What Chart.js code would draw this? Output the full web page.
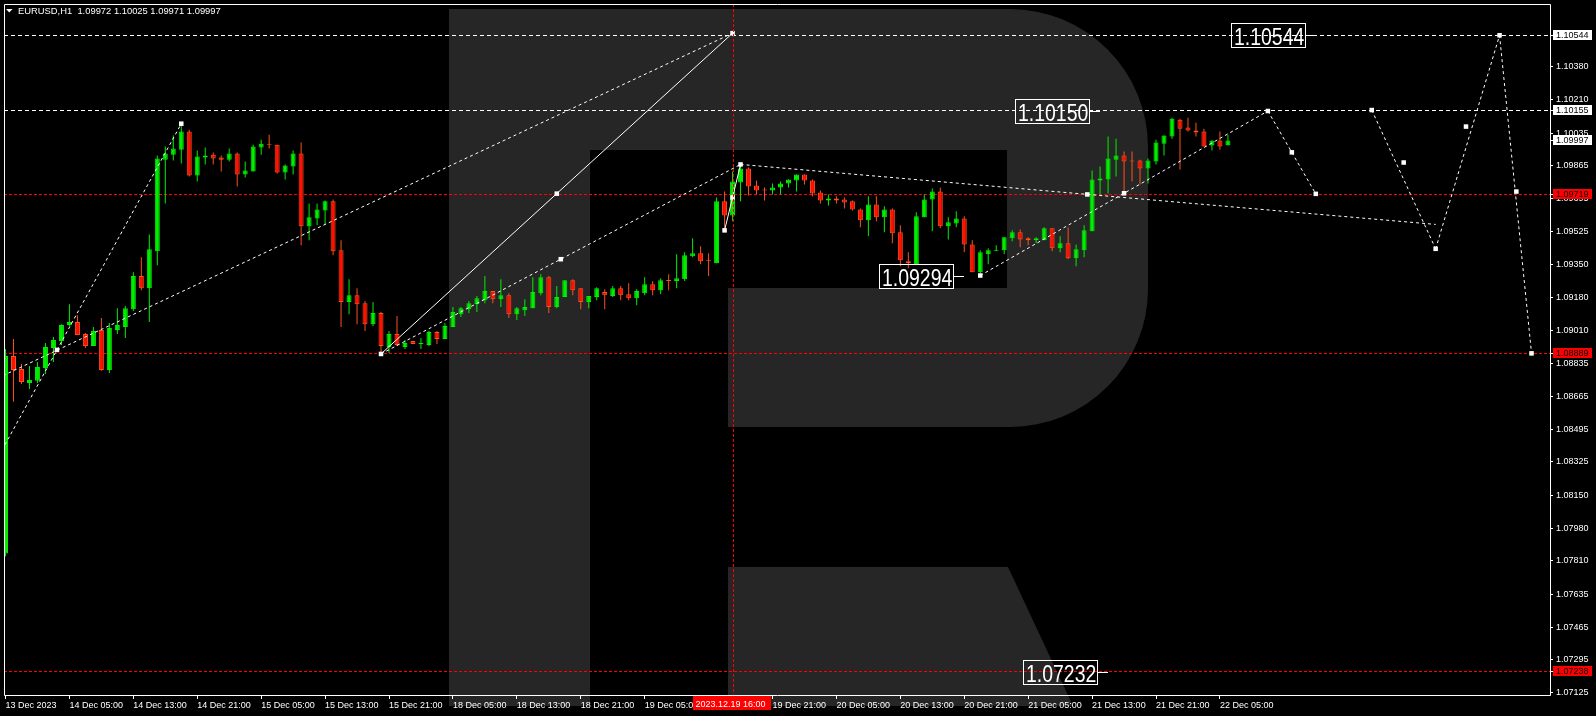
<!DOCTYPE html>
<html><head><meta charset="utf-8">
<script src="https://cdn.jsdelivr.net/npm/chart.js@4.4.1/dist/chart.umd.min.js"></script>
<style>html,body{margin:0;padding:0;background:#000;overflow:hidden}#wrap{width:1596px;height:716px;position:relative}</style>
</head><body><div id="wrap"><canvas id="c" width="1596" height="716"></canvas></div>
<script>
const titleText = 'EURUSD,H1  1.09972 1.10025 1.09971 1.09997';
const opens = [1.07848,1.08875,1.08808,1.08735,1.08746,1.08813,1.08917,1.08953,1.09036,1.09052,1.08990,1.08927,1.09010,1.08803,1.09010,1.09026,1.09119,1.09291,1.09228,1.09420,1.09897,1.09923,1.09949,1.10043,1.09814,1.09908,1.09923,1.09908,1.09897,1.09929,1.09820,1.09835,1.09960,1.09980,1.09975,1.09830,1.09861,1.09929,1.09550,1.09591,1.09633,1.09680,1.09425,1.09156,1.09192,1.09150,1.09041,1.09099,1.08922,1.08990,1.08922,1.08953,1.08938,1.08932,1.09000,1.08964,1.09026,1.09093,1.09119,1.09145,1.09166,1.09213,1.09171,1.09192,1.09093,1.09114,1.09124,1.09202,1.09285,1.09130,1.09182,1.09270,1.09228,1.09156,1.09182,1.09208,1.09187,1.09228,1.09197,1.09176,1.09202,1.09249,1.09218,1.09270,1.09265,1.09275,1.09394,1.09410,1.09373,1.09358,1.09680,1.09607,1.09778,1.09851,1.09763,1.09742,1.09737,1.09752,1.09773,1.09789,1.09820,1.09789,1.09726,1.09685,1.09695,1.09690,1.09680,1.09638,1.09581,1.09664,1.09597,1.09638,1.09519,1.09368,1.09353,1.09597,1.09690,1.09731,1.09550,1.09565,1.09591,1.09456,1.09311,1.09405,1.09423,1.09425,1.09488,1.09519,1.09488,1.09477,1.09477,1.09540,1.09436,1.09462,1.09384,1.09425,1.09524,1.09789,1.09794,1.09897,1.09918,1.09892,1.09892,1.09851,1.09887,1.09980,1.10017,1.10105,1.10064,1.10048,1.10043,1.09970,1.09996,1.09972];
const highs = [1.08912,1.08964,1.08834,1.08823,1.08844,1.08943,1.08974,1.09041,1.09145,1.09088,1.08995,1.09026,1.09073,1.09047,1.09124,1.09135,1.09311,1.09389,1.09508,1.09918,1.09965,1.10022,1.10084,1.10053,1.09944,1.09960,1.09934,1.09918,1.09955,1.09934,1.09887,1.09975,1.10001,1.10027,1.09975,1.09872,1.09944,1.09986,1.09669,1.09669,1.09685,1.09690,1.09477,1.09275,1.09228,1.09161,1.09156,1.09104,1.09005,1.09083,1.08958,1.08953,1.08969,1.09005,1.09005,1.09047,1.09130,1.09130,1.09161,1.09187,1.09291,1.09213,1.09275,1.09202,1.09130,1.09171,1.09285,1.09301,1.09291,1.09239,1.09270,1.09275,1.09228,1.09187,1.09233,1.09223,1.09239,1.09239,1.09254,1.09223,1.09285,1.09265,1.09280,1.09301,1.09405,1.09415,1.09488,1.09446,1.09410,1.09700,1.09731,1.09835,1.09877,1.09856,1.09789,1.09752,1.09773,1.09783,1.09794,1.09820,1.09820,1.09794,1.09737,1.09716,1.09706,1.09700,1.09685,1.09643,1.09706,1.09706,1.09654,1.09643,1.09555,1.09415,1.09623,1.09716,1.09747,1.09752,1.09597,1.09628,1.09602,1.09477,1.09425,1.09436,1.09451,1.09493,1.09529,1.09534,1.09493,1.09493,1.09545,1.09540,1.09498,1.09545,1.09456,1.09555,1.09840,1.09861,1.10017,1.10006,1.09939,1.09939,1.09897,1.09903,1.10001,1.10022,1.10115,1.10110,1.10115,1.10089,1.10058,1.09996,1.10043,1.10025];
const lows = [1.07833,1.08637,1.08730,1.08704,1.08735,1.08782,1.08844,1.08932,1.09031,1.08984,1.08917,1.08927,1.08798,1.08787,1.08990,1.08969,1.09109,1.09218,1.09052,1.09348,1.09669,1.09892,1.09877,1.09809,1.09783,1.09872,1.09872,1.09835,1.09887,1.09757,1.09804,1.09835,1.09923,1.09955,1.09825,1.09794,1.09820,1.09451,1.09477,1.09555,1.09560,1.09399,1.09026,1.09093,1.09041,1.09005,1.09031,1.08886,1.08891,1.08927,1.08912,1.08938,1.08912,1.08927,1.08938,1.08964,1.09026,1.09078,1.09099,1.09104,1.09150,1.09150,1.09130,1.09073,1.09062,1.09083,1.09124,1.09192,1.09099,1.09124,1.09182,1.09192,1.09119,1.09124,1.09166,1.09119,1.09182,1.09166,1.09166,1.09140,1.09192,1.09192,1.09197,1.09218,1.09228,1.09265,1.09389,1.09353,1.09291,1.09358,1.09529,1.09576,1.09680,1.09711,1.09716,1.09685,1.09716,1.09716,1.09752,1.09731,1.09768,1.09706,1.09669,1.09659,1.09669,1.09643,1.09633,1.09545,1.09498,1.09576,1.09519,1.09462,1.09342,1.09332,1.09353,1.09597,1.09524,1.09540,1.09482,1.09545,1.09415,1.09311,1.09296,1.09353,1.09420,1.09405,1.09472,1.09441,1.09451,1.09462,1.09477,1.09420,1.09415,1.09379,1.09342,1.09389,1.09524,1.09716,1.09721,1.09809,1.09726,1.09783,1.09768,1.09773,1.09872,1.09918,1.10006,1.09846,1.10043,1.10017,1.09965,1.09944,1.09949,1.09971];
const closes = [1.08875,1.08803,1.08740,1.08751,1.08818,1.08922,1.08958,1.09036,1.09052,1.08984,1.08927,1.09005,1.08803,1.09021,1.09036,1.09124,1.09291,1.09228,1.09431,1.09903,1.09929,1.09955,1.10043,1.09814,1.09913,1.09918,1.09903,1.09897,1.09929,1.09820,1.09840,1.09965,1.09980,1.09975,1.09830,1.09866,1.09929,1.09550,1.09597,1.09638,1.09680,1.09420,1.09156,1.09192,1.09145,1.09041,1.09099,1.08927,1.08990,1.08932,1.08943,1.08938,1.08943,1.09000,1.08964,1.09031,1.09104,1.09124,1.09150,1.09176,1.09213,1.09171,1.09192,1.09093,1.09124,1.09130,1.09208,1.09285,1.09130,1.09182,1.09270,1.09218,1.09156,1.09187,1.09228,1.09192,1.09228,1.09192,1.09176,1.09213,1.09249,1.09218,1.09270,1.09265,1.09280,1.09399,1.09410,1.09368,1.09368,1.09680,1.09607,1.09783,1.09851,1.09757,1.09737,1.09737,1.09752,1.09773,1.09794,1.09820,1.09789,1.09721,1.09685,1.09695,1.09685,1.09674,1.09638,1.09581,1.09664,1.09597,1.09638,1.09514,1.09373,1.09358,1.09602,1.09690,1.09731,1.09550,1.09571,1.09591,1.09456,1.09311,1.09415,1.09425,1.09425,1.09493,1.09519,1.09482,1.09477,1.09488,1.09540,1.09436,1.09462,1.09384,1.09431,1.09529,1.09794,1.09799,1.09903,1.09918,1.09887,1.09887,1.09851,1.09892,1.09986,1.10022,1.10110,1.10058,1.10048,1.10038,1.09965,1.09996,1.09965,1.09997];

const xTickIdx = [0,8,16,24,32,40,48,56,64,72,80,88,96,104,112,120,128,136,144,152];
const xTickLabels = ['13 Dec 2023','14 Dec 05:00','14 Dec 13:00','14 Dec 21:00','15 Dec 05:00','15 Dec 13:00','15 Dec 21:00','18 Dec 05:00','18 Dec 13:00','18 Dec 21:00','19 Dec 05:00','19 Dec 13:00','19 Dec 21:00','20 Dec 05:00','20 Dec 13:00','20 Dec 21:00','21 Dec 05:00','21 Dec 13:00','21 Dec 21:00','22 Dec 05:00'];
const yTicks = [1.10380,1.10210,1.10035,1.09865,1.09695,1.09525,1.09350,1.09180,1.09010,1.08835,1.08665,1.08495,1.08325,1.08150,1.07980,1.07810,1.07635,1.07465,1.07295,1.07125];

const whiteLevels = [1.10544, 1.10155];
const redLevels = [1.09719, 1.08889, 1.07238];
const bidPrice = 1.09997;
const crossIdx = 91;
const crossLabel = '2023.12.19 16:00';

const trendDashed = [
  [[-9.1,1.07730],[22,1.10084]],
  [[-1,1.08760],[91,1.10555]],
  [[47,1.08886],[92,1.09872]],
  [[92,1.09872],[179,1.09560]],
  [[122,1.09294],[158,1.10150]]
];
const trendSolid = [
  [[47,1.08886],[91,1.10555]],
  [[90,1.09529],[92,1.09872]]
];
const forecast = [
  [[158,1.10150],[164,1.09719]],
  [[171,1.10155],[179,1.09433]],
  [[179,1.09433],[187,1.10544]],
  [[187,1.10544],[191,1.08889]]
];
const markers = [[6.44,1.08907],[22,1.10084],[47,1.08886],[69,1.09720],[69.5,1.09379],[91,1.10555],[90,1.09529],[91,1.09700],[92,1.09872],[135.4,1.09716],[122,1.09294],[140,1.09722],[158,1.10150],[161,1.09935],[164,1.09719],[171,1.10155],[175,1.09882],[179,1.09433],[182.8,1.10069],[187,1.10544],[189.1,1.09731],[191,1.08889]];
const priceTags = [
  {text:'1.10544', i:164, p:1.10544},
  {text:'1.10150', i:137, p:1.10150},
  {text:'1.09294', i:120, p:1.09294},
  {text:'1.07232', i:138, p:1.07232}
];

const FONT = "'Liberation Sans', Arial, sans-serif";
const GREEN = '#00ee00', RED = '#ff1000', REDB = '#ff5020';
const idx = opens.map((_, i) => i);
const up = idx.map(i => closes[i] >= opens[i]);

function seg(s, dash, solid) {
  return {type:'line', data: s.map(p => ({x:p[0], y:p[1]})), borderColor:'#ffffff', borderWidth:1,
    borderDash: solid ? [] : dash, pointRadius:0, fill:false, tension:0, order:2};
}
const datasets = [
  {type:'bar', data: idx.map(i => ({x:i, y:[lows[i], highs[i]]})), backgroundColor: idx.map(i => up[i] ? GREEN : REDB),
   barThickness:1, grouped:false, inflateAmount:0, borderWidth:0, order:6},
  {type:'bar', data: idx.map(i => ({x:i, y:[opens[i], closes[i]]})), backgroundColor: idx.map(i => up[i] ? GREEN : RED),
   borderColor: idx.map(i => up[i] ? GREEN : REDB), borderWidth:1, borderSkipped:false, barThickness:5, minBarLength:1,
   grouped:false, inflateAmount:0, order:5}
];
trendDashed.forEach(s => datasets.push(seg(s, [3,3], false)));
trendSolid.forEach(s => datasets.push(seg(s, [], true)));
forecast.forEach(s => datasets.push(seg(s, [3,3], false)));
datasets.push({type:'line', data: markers.map(p => ({x:p[0], y:p[1]})), showLine:false, pointStyle:'rect',
  pointRadius:3.2, pointBackgroundColor:'#ffffff', pointBorderWidth:0, order:1});

const Y_MIN = 1.071115, Y_MAX = 1.107068;
const X_MIN = -0.1875, X_MAX = 193.3125;

const bgPlugin = {
  id:'bg',
  beforeDraw(chart) {
    const ctx = chart.ctx;
    ctx.save();
    ctx.fillStyle = '#000';
    ctx.fillRect(0, 0, chart.width, chart.height);
    ctx.fillStyle = '#262626';
    ctx.beginPath();
    ctx.moveTo(449, 9); ctx.lineTo(1010, 9);
    ctx.arc(1010, 147, 138, -Math.PI/2, 0);
    ctx.lineTo(1148, 289);
    ctx.arc(1010, 289, 138, 0, Math.PI/2);
    ctx.lineTo(728, 427); ctx.lineTo(728, 288); ctx.lineTo(1007, 288); ctx.lineTo(1007, 150);
    ctx.lineTo(590, 150); ctx.lineTo(590, 706); ctx.lineTo(449, 706); ctx.closePath();
    ctx.fill();
    ctx.beginPath();
    ctx.moveTo(728, 567); ctx.lineTo(1008, 567); ctx.lineTo(1073, 706); ctx.lineTo(728, 706); ctx.closePath();
    ctx.fill();
    ctx.restore();
  },
  beforeDatasetsDraw(chart) {
    const ctx = chart.ctx, ys = chart.scales.y, a = chart.chartArea;
    ctx.save();
    ctx.lineWidth = 1;
    whiteLevels.forEach(v => {
      const y = Math.round(ys.getPixelForValue(v)) + 0.5;
      ctx.strokeStyle = '#ffffff'; ctx.setLineDash([4,3]);
      ctx.beginPath(); ctx.moveTo(a.left, y); ctx.lineTo(a.right, y); ctx.stroke();
    });
    redLevels.forEach(v => {
      const y = Math.round(ys.getPixelForValue(v)) + 0.5;
      ctx.strokeStyle = '#ff0000'; ctx.setLineDash([3,2]);
      ctx.beginPath(); ctx.moveTo(a.left, y); ctx.lineTo(a.right, y); ctx.stroke();
    });
    ctx.restore();
  },
  afterDraw(chart) {
    const ctx = chart.ctx, xs = chart.scales.x, ys = chart.scales.y, a = chart.chartArea;
    ctx.save();
    const cx = Math.round(xs.getPixelForValue(crossIdx)) + 0.5;
    ctx.strokeStyle = '#ff0000'; ctx.lineWidth = 1; ctx.setLineDash([3,2]);
    ctx.beginPath(); ctx.moveTo(cx, a.top); ctx.lineTo(cx, a.bottom); ctx.stroke();
    ctx.setLineDash([]);
    ctx.strokeStyle = '#ffffff';
    ctx.beginPath();
    ctx.moveTo(a.left + 0.5, a.bottom + 0.5); ctx.lineTo(a.left + 0.5, a.top + 0.5);
    ctx.lineTo(a.right + 0.5, a.top + 0.5); ctx.lineTo(a.right + 0.5, a.bottom + 0.5);
    ctx.lineTo(a.left + 0.5, a.bottom + 0.5);
    ctx.stroke();
    ctx.fillStyle = '#ffffff';
    ctx.beginPath(); ctx.moveTo(6, 9); ctx.lineTo(12.5, 9); ctx.lineTo(9.25, 12.5); ctx.closePath(); ctx.fill();
    ctx.font = '9.4px ' + FONT; ctx.textBaseline = 'alphabetic'; ctx.textAlign = 'left';
    ctx.fillText(titleText, 18, 14);
    priceTags.forEach(t => {
      const ax = Math.round(xs.getPixelForValue(t.i));
      const ay = Math.round(ys.getPixelForValue(t.p));
      ctx.strokeStyle = '#ffffff'; ctx.lineWidth = 1;
      ctx.beginPath(); ctx.moveTo(ax - 10, ay + 0.5); ctx.lineTo(ax, ay + 0.5); ctx.stroke();
      const bx = ax - 10 - 75, by = ay - 12;
      ctx.strokeRect(bx + 0.5, by + 0.5, 74, 24);
      ctx.save();
      ctx.translate(bx + 3, ay + 10);
      ctx.scale(0.81, 1);
      ctx.font = '24px ' + FONT; ctx.fillStyle = '#ffffff';
      ctx.fillText(t.text, 0, 0);
      ctx.restore();
    });
    ctx.font = '9px ' + FONT; ctx.textBaseline = 'middle';
    const box = (v, bg, fg) => {
      const y = Math.round(ys.getPixelForValue(v));
      ctx.fillStyle = bg; ctx.fillRect(a.right + 3, y - 5, 39, 10);
      ctx.strokeStyle = '#ffffff'; ctx.beginPath(); ctx.moveTo(a.right + 1, y + 0.5); ctx.lineTo(a.right + 3, y + 0.5); ctx.stroke();
      ctx.fillStyle = fg; ctx.fillText(v.toFixed(5), a.right + 6, y + 0.5);
    };
    whiteLevels.forEach(v => box(v, '#ffffff', '#000000'));
    box(bidPrice, '#ffffff', '#000000');
    redLevels.forEach(v => box(v, '#ff0000', '#000000'));
    ctx.fillStyle = '#ff0000'; ctx.fillRect(cx - 40.5, a.bottom + 1, 78, 14);
    ctx.fillStyle = '#ffffff'; ctx.textBaseline = 'alphabetic';
    ctx.fillText(crossLabel, cx - 38, a.bottom + 12);
    ctx.restore();
  }
};

new Chart(document.getElementById('c'), {
  type: 'line',
  data: { datasets },
  options: {
    responsive: false, animation: false, events: [],
    layout: { padding: { left: 2, top: 2, right: 0, bottom: 0 } },
    plugins: { legend: { display: false }, tooltip: { enabled: false } },
    scales: {
      x: {
        type: 'linear', min: X_MIN, max: X_MAX, offset: false, position: 'bottom',
        afterBuildTicks: s => { s.ticks = xTickIdx.map(v => ({ value: v })); },
        afterFit: s => { s.height = 21; s.paddingLeft = 0; s.paddingRight = 0; },
        grid: { drawOnChartArea: false, drawTicks: true, tickLength: 4, color: '#ffffff', offset: false },
        border: { display: false },
        ticks: { autoSkip: false, maxRotation: 0, minRotation: 0, align: 'start', padding: 1, color: '#ffffff',
          font: { family: FONT, size: 9 },
          callback: v => { const k = xTickIdx.indexOf(v); return k >= 0 ? xTickLabels[k] : ''; } }
      },
      y: {
        type: 'linear', min: Y_MIN, max: Y_MAX, position: 'right',
        afterBuildTicks: s => { s.ticks = yTicks.map(v => ({ value: v })); },
        afterFit: s => { s.width = 46; s.paddingTop = 0; s.paddingBottom = 0; },
        grid: { drawOnChartArea: false, drawTicks: true, tickLength: 3, color: '#ffffff' },
        border: { display: false },
        ticks: { padding: 3, color: '#ffffff', font: { family: FONT, size: 9 }, callback: v => Number(v).toFixed(5) }
      }
    }
  },
  plugins: [bgPlugin]
});
</script>
</body></html>
